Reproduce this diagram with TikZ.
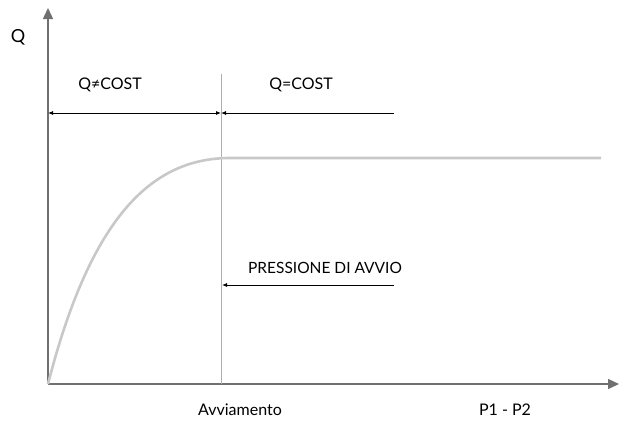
\documentclass[tikz,border=0pt]{standalone}
\usepackage{fontspec}
\setmainfont{Lato}
\usetikzlibrary{arrows.meta}
\definecolor{axisgray}{RGB}{112,112,112}
\definecolor{curvegray}{RGB}{200,200,200}
\definecolor{linegray}{RGB}{175,175,175}
\tikzstyle{lbl} = [inner sep=0pt, font=\fontsize{16}{18}\selectfont]

\begin{document}
\begin{tikzpicture}[x=1pt,y=-1pt,
			axis/.style = {draw=axisgray, line width=1.4pt, -{Triangle[length=11pt,width=10pt]}},
			dim/.style = {black, line width=0.8pt},
			tip/.style = {Latex[length=5pt,width=4pt]}]
			\useasboundingbox (0,0) rectangle (631,426);
			% punti principali
			\coordinate (o) at (48,384);
			\coordinate (ytop) at (48,8);
			\coordinate (xend) at (619,384);
			\coordinate (vtop) at (221,74);
			\coordinate (vbot) at (221,384);
			\coordinate (flat) at (230,158);
			\coordinate (fend) at (601,158);
			\coordinate (dl) at (48,113);
			\coordinate (dm) at (221,113);
			\coordinate (dr) at (394,113);
			\coordinate (pl) at (222,285);
			\coordinate (pr) at (394,285);
			% assi
			\draw [axis] (o) -- (ytop);
			\draw [axis] (o) -- (xend);
			\draw [linegray, line width=0.9pt] (vtop) -- (vbot);
			% curva
			\draw [curvegray, line width=2.6pt] (o) .. controls (90,220) and (150,158) .. (flat) -- (fend);
			% quote
			\draw [dim, {Latex[length=5pt,width=4pt]}-{Latex[length=5pt,width=4pt]}] (dl) -- (dm);
			\draw [dim, {Latex[length=5pt,width=4pt]}-] (dm) -- (dr);
			\draw [dim, {Latex[length=5pt,width=4pt]}-] (pl) -- (pr);
			% testi
			\node (qlabel) [lbl, font=\fontsize{18}{20}\selectfont] at (18,37) {Q};
			\node (noncost) [lbl] at (110,85) {Q≠COST};
			\node (cost) [lbl] at (301,85) {Q=COST};
			\node (pressione) [lbl, font=\fontsize{15.5}{18}\selectfont] at (325,268) {PRESSIONE DI AVVIO};
			\node (avviamento) [lbl] at (240,410) {Avviamento};
			\node (pdiff) [lbl] at (505,410) {P1 - P2};
\end{tikzpicture}
\end{document}
